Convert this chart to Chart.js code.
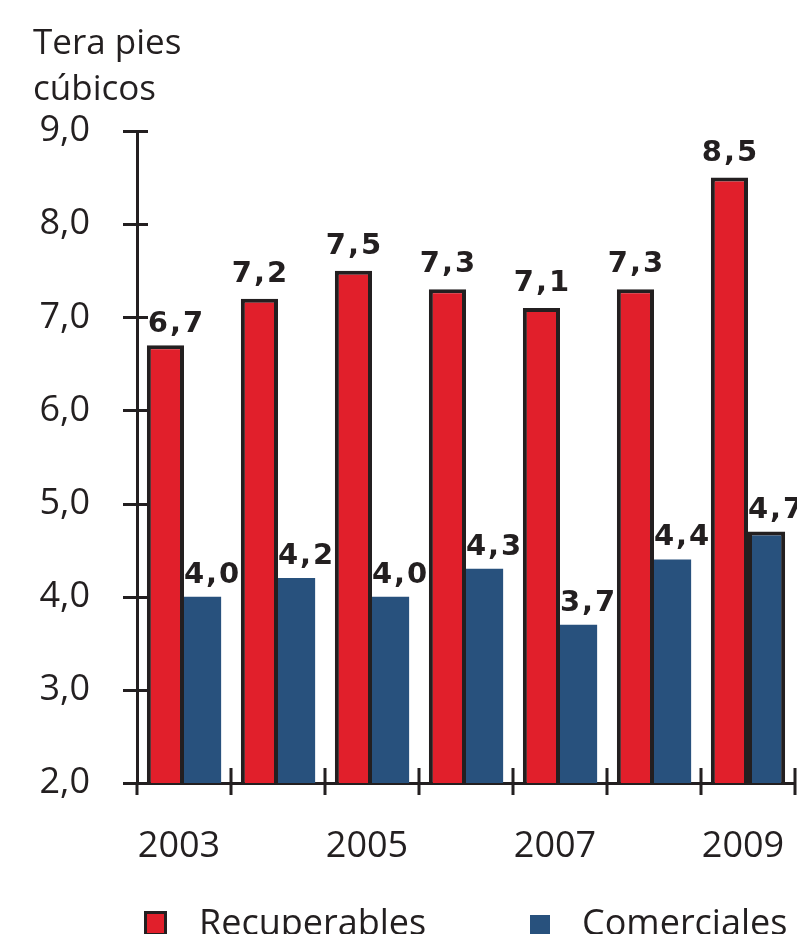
<!DOCTYPE html>
<html>
<head>
<meta charset="utf-8">
<script src="https://cdn.jsdelivr.net/npm/chart.js@4.4.1/dist/chart.umd.min.js"></script>
<style>
  html, body { margin: 0; padding: 0; background: #fff; overflow: hidden; }
  #wrap { position: relative; width: 797px; height: 934px; }
</style>
</head>
<body>
<div id="wrap"><canvas id="c"></canvas></div>
<script>
const years = ['2003', '2004', '2005', '2006', '2007', '2008', '2009'];
const recuperables = [6.7, 7.2, 7.5, 7.3, 7.1, 7.3, 8.5];
const comerciales = [4.0, 4.2, 4.0, 4.3, 3.7, 4.4, 4.7];
const yTicks = [2, 3, 4, 5, 6, 7, 8, 9];
const seriesNames = ['Recuperables', 'Comerciales'];
const axisTitle = ['Tera pies', 'cúbicos'];

const INK = '#231f20';
const RED = '#e11f2b';
const BLUE = '#28517d';
const FONT = '"Open Sans", "Liberation Sans", sans-serif';

const fmt = v => v.toFixed(1).replace('.', ',');

const decor = {
  id: 'decor',
  afterDatasetsDraw(chart) {
    const ctx = chart.ctx;
    const xs = chart.scales.x, ys = chart.scales.y;
    const area = chart.chartArea;
    ctx.save();
    // crossing tick marks
    ctx.strokeStyle = INK;
    ctx.lineWidth = 3;
    ctx.beginPath();
    yTicks.forEach(v => {
      const y = Math.round(ys.getPixelForValue(v)) + 0.5;
      ctx.moveTo(area.left - 14, y);
      ctx.lineTo(area.left + 11, y);
    });
    const half = (xs.getPixelForValue(1) - xs.getPixelForValue(0)) / 2;
    for (let i = 0; i <= years.length; i++) {
      const x = Math.round(xs.getPixelForValue(i) - half);
      ctx.moveTo(x, i === 0 ? area.bottom : area.bottom - 15);
      ctx.lineTo(x, area.bottom + 12);
    }
    ctx.stroke();

    // data labels
    ctx.fillStyle = INK;
    ctx.font = 'bold 29px "DejaVu Sans", sans-serif';
    ctx.textAlign = 'center';
    ctx.textBaseline = 'alphabetic';
    try { ctx.letterSpacing = '2px'; } catch (e) {}
    const cfg = [{ dx: 1, gap: 17 }, { dx: 10, gap: 14 }];
    chart.data.datasets.forEach((ds, di) => {
      const meta = chart.getDatasetMeta(di);
      meta.data.forEach((el, i) => {
        let dx = cfg[di].dx, gap = cfg[di].gap;
        if (di === 0 && i === 0) { dx = 11; gap = 13; } // label nudged clear of the axis tick
        ctx.fillText(fmt(ds.data[i]), el.x + dx, el.y - gap);
      });
    });
    try { ctx.letterSpacing = '0px'; } catch (e) {}

    // axis title
    ctx.font = '35px ' + FONT;
    ctx.textAlign = 'left';
    ctx.fillText(axisTitle[0], 33, 54);
    ctx.fillText(axisTitle[1], 33, 100);

    // legend
    ctx.fillStyle = RED;
    ctx.fillRect(144, 911, 23, 24);
    ctx.strokeStyle = INK;
    ctx.lineWidth = 3;
    ctx.strokeRect(145.5, 912.5, 20, 22);
    ctx.fillStyle = BLUE;
    ctx.fillRect(530, 915, 20, 20);
    ctx.fillStyle = INK;
    ctx.font = '36px ' + FONT;
    ctx.fillText(seriesNames[0], 199, 935);
    ctx.fillText(seriesNames[1], 582, 935);
    ctx.restore();
  }
};

new Chart(document.getElementById('c'), {
  type: 'bar',
  data: {
    labels: years,
    datasets: [
      {
        label: seriesNames[0],
        data: recuperables,
        backgroundColor: RED,
        borderColor: INK,
        borderWidth: 4,
        borderSkipped: 'start',
        categoryPercentage: 0.79,
        barPercentage: 1.0
      },
      {
        label: seriesNames[1],
        data: comerciales,
        backgroundColor: BLUE,
        borderColor: INK,
        borderWidth: [0, 0, 0, 0, 0, 0, 4],
        borderSkipped: 'start',
        categoryPercentage: 0.79,
        barPercentage: 1.0
      }
    ]
  },
  options: {
    responsive: true,
    maintainAspectRatio: false,
    animation: false,
    layout: { padding: { top: 131, right: 2, left: 0, bottom: 0 } },
    plugins: { legend: { display: false }, tooltip: { enabled: false } },
    scales: {
      x: {
        grid: { display: false, drawTicks: false },
        border: { display: true, color: INK, width: 3 },
        ticks: {
          autoSkip: false,
          maxRotation: 0,
          color: INK,
          font: { family: FONT, size: 36 },
          padding: 42,
          labelOffset: -5,
          callback: (v, i) => (i % 2 === 0 ? years[i] : '')
        },
        afterFit: s => { s.height = 151; s.paddingLeft = 0; s.paddingRight = 0; }
      },
      y: {
        min: 2, max: 9,
        grid: { display: false, drawTicks: false },
        border: { display: true, color: INK, width: 3 },
        ticks: {
          stepSize: 1,
          color: INK,
          font: { family: FONT, size: 36 },
          padding: 47,
          callback: v => fmt(v)
        },
        afterFit: s => { s.width = 137; s.paddingTop = 0; s.paddingBottom = 0; }
      }
    }
  },
  plugins: [decor]
});
</script>
</body>
</html>
